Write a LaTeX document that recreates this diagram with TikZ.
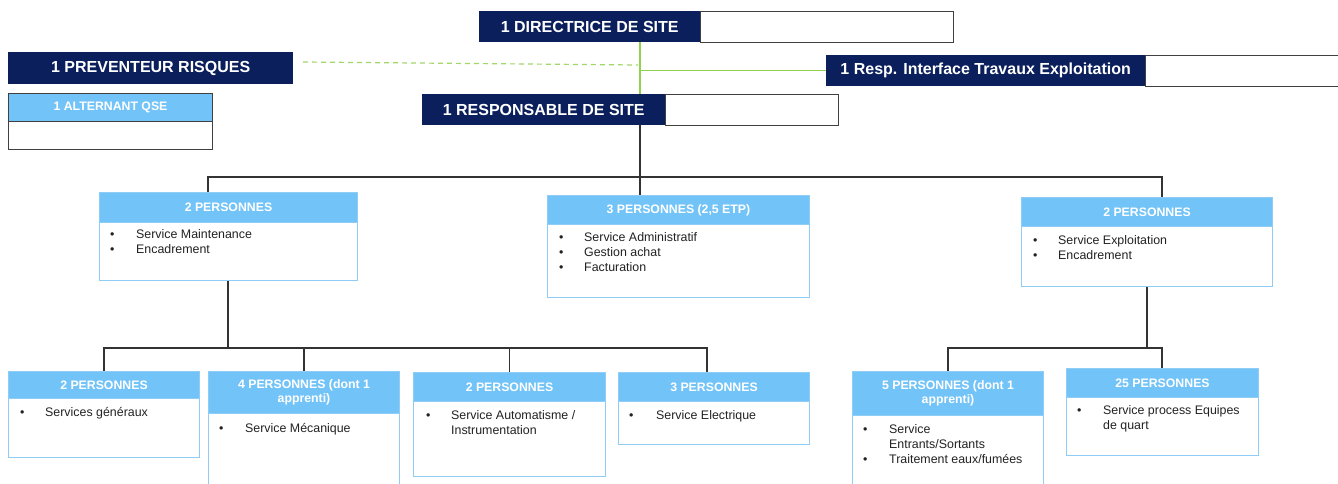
\documentclass[tikz,border=0pt]{standalone}
\usepackage{fontspec}
\setmainfont{Liberation Sans}
\definecolor{navy}{HTML}{0B1F5C}
\definecolor{lblue}{HTML}{72C3F8}
\definecolor{lborder}{HTML}{8FCDF6}
\definecolor{lgreen}{HTML}{92D050}
\definecolor{lineblk}{HTML}{333333}
\definecolor{boxgray}{HTML}{404040}
\definecolor{txt}{HTML}{222222}
\tikzset{
 navybox/.style={fill=navy, text=white, font=\bfseries\fontsize{16}{18}\selectfont, inner sep=0pt, anchor=north west},
 emptybox/.style={draw=boxgray, line width=1pt, fill=white, inner sep=0pt, anchor=north west},
 hdr/.style={fill=lblue, draw=lborder, line width=1pt, text=white, font=\bfseries\fontsize{12.3}{14.5}\selectfont, align=center, inner sep=0pt, anchor=north west},
 bodybox/.style={draw=lborder, line width=1pt, fill=white, inner sep=0pt, anchor=north west},
 items/.style={anchor=north west, inner sep=0pt, font=\fontsize{12.4}{15}\selectfont, align=left, text=txt},
 conn/.style={draw=lineblk, line width=1.4pt},
 gconn/.style={draw=lgreen, line width=1.4pt},
}
\newcommand\blist[2]{\begin{tabular}{@{}p{#1pt}@{}l@{}}#2\end{tabular}}
\begin{document}
\begin{tikzpicture}[x=1pt,y=-1pt]
\useasboundingbox[fill=white] (0,0) rectangle (1338,484);
% top level
\node[navybox, minimum width=221pt, minimum height=31pt] (dirN) at (479,11) {1 DIRECTRICE DE SITE};
\node[emptybox, minimum width=253pt, minimum height=31pt] (dirW) at (700,11) {};
\node[navybox, minimum width=285pt, minimum height=32pt] (preN) at (8,52) {1 PREVENTEUR RISQUES};
\node[hdr, draw=boxgray, minimum width=204pt, minimum height=28pt] (altH) at (8,93) {1 ALTERNANT QSE};
\node[emptybox, minimum width=204pt, minimum height=28pt] (altB) at (8,121) {};
\node[navybox, minimum width=319pt, minimum height=31pt] (rtiN) at (826,55) {1 Resp. Interface Travaux Exploitation};
\node[emptybox, minimum width=200pt, minimum height=31pt] (rtiW) at (1145,55) {};
\node[navybox, minimum width=243pt, minimum height=31pt] (rsN) at (422,94) {1 RESPONSABLE DE SITE};
\node[emptybox, minimum width=173pt, minimum height=31pt] (rsW) at (665,94) {};
% level 2
\node[hdr, minimum width=258pt, minimum height=30pt] (B1h) at (99,192) {2 PERSONNES};
\node[bodybox, minimum width=258pt, minimum height=58pt] (B1b) at (99,222) {};
\node[items] (B1t) at (110,227.7) {\blist{26}{•&Service Maintenance\\•&Encadrement}};
\node[hdr, minimum width=262pt, minimum height=29pt] (B2h) at (547,195) {3 PERSONNES (2,5 ETP)};
\node[bodybox, minimum width=262pt, minimum height=73pt] (B2b) at (547,224) {};
\node[items] (B2t) at (559,230.7) {\blist{25}{•&Service Administratif\\•&Gestion achat\\•&Facturation}};
\node[hdr, minimum width=251pt, minimum height=29pt] (B3h) at (1021,197) {2 PERSONNES};
\node[bodybox, minimum width=251pt, minimum height=60pt] (B3b) at (1021,226) {};
\node[items] (B3t) at (1033,233.7) {\blist{25}{•&Service Exploitation\\•&Encadrement}};
% level 3
\node[hdr, minimum width=191pt, minimum height=27pt] (C1h) at (8,371) {2 PERSONNES};
\node[bodybox, minimum width=191pt, minimum height=59pt] (C1b) at (8,398) {};
\node[items] (C1t) at (20,405.7) {\blist{25}{•&Services généraux}};
\node[hdr, minimum width=191pt, minimum height=42pt] (C2h) at (208,371) {4 PERSONNES (dont 1\\apprenti)};
\node[bodybox, minimum width=191pt, minimum height=80pt] (C2b) at (208,413) {};
\node[items] (C2t) at (219,421.7) {\blist{26}{•&Service Mécanique}};
\node[hdr, minimum width=192pt, minimum height=29pt] (C3h) at (413,372) {2 PERSONNES};
\node[bodybox, minimum width=192pt, minimum height=75pt] (C3b) at (413,401) {};
\node[items] (C3t) at (426,408.7) {\blist{25}{•&Service Automatisme /\\&Instrumentation}};
\node[hdr, minimum width=191pt, minimum height=29pt] (C4h) at (618,372) {3 PERSONNES};
\node[bodybox, minimum width=191pt, minimum height=43pt] (C4b) at (618,401) {};
\node[items] (C4t) at (629,408.7) {\blist{27}{•&Service Electrique}};
\node[hdr, minimum width=191pt, minimum height=44pt] (D1h) at (852,371) {5 PERSONNES (dont 1\\apprenti)};
\node[bodybox, minimum width=191pt, minimum height=80pt] (D1b) at (852,415) {};
\node[items] (D1t) at (863,422.7) {\blist{26}{•&Service\\&Entrants/Sortants\\•&Traitement eaux/fumées}};
\node[hdr, minimum width=192pt, minimum height=29pt] (D2h) at (1066,368) {25 PERSONNES};
\node[bodybox, minimum width=192pt, minimum height=58pt] (D2b) at (1066,397) {};
\node[items] (D2t) at (1077,403.7) {\blist{26}{•&Service process Equipes\\&de quart}};
% connectors: green
\coordinate (gx) at (640,0);
\coordinate (dashL) at (303,62);
\coordinate (dashR) at (638,65);
\draw[gconn] (gx |- dirN.south) -- (gx |- rsN.north);
\draw[gconn] (gx |- rtiN.west) -- (rtiN.west);
\draw[draw=lgreen!85, line width=1.2pt, dash pattern=on 5pt off 4pt] (dashL) -- (dashR);
% black tree
\coordinate (t1) at (208,177);
\coordinate (t3) at (1162,177);
\draw[conn] (gx |- rsN.south) -- (gx |- B2h.north);
\draw[conn] (t1 |- B1h.north) -- (t1) -- (t3) -- (t3 |- B3h.north);
\coordinate (u1) at (228,348);
\coordinate (c1x) at (104,348);
\coordinate (c3x) at (509.5,348);
\coordinate (c4x) at (707,348);
\draw[conn] (u1 |- B1b.south) -- (u1);
\draw[conn] (c1x |- C1h.north) -- (c1x) -- (c4x) -- (c4x |- C4h.north);
\draw[conn] (C2h.north) -- (C2h.north |- u1);
\draw[conn] (c3x |- C3h.north) -- (c3x);
\coordinate (u3) at (1147,348);
\coordinate (d1x) at (948,348);
\coordinate (d2x) at (1162,348);
\draw[conn] (u3 |- B3b.south) -- (u3);
\draw[conn] (d1x |- D1h.north) -- (d1x) -- (d2x) -- (d2x |- D2h.north);
\end{tikzpicture}
\end{document}
